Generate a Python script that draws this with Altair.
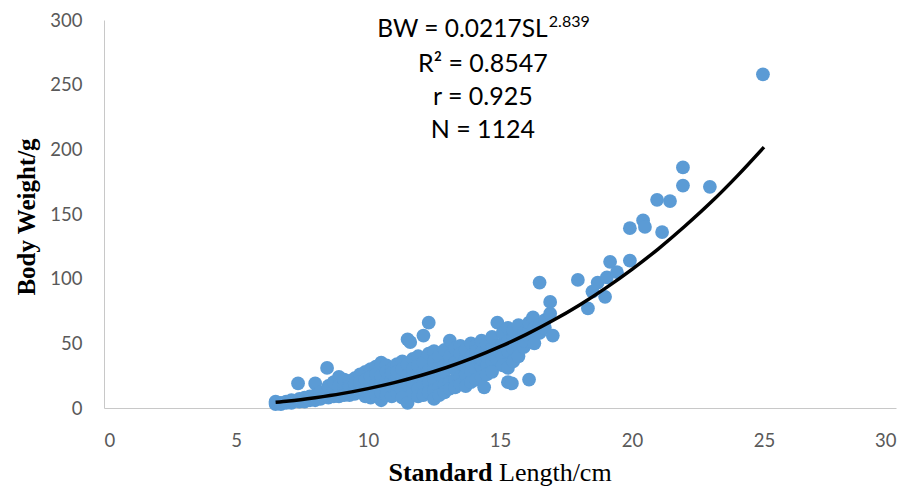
import altair as alt
import pandas as pd

# ---- scatter data ----
# dense cluster: one SL value with several BW readings
cluster_sl = [6.5, 6.7, 6.9, 7.1, 7.35, 7.4, 7.6, 7.8, 8.0, 8.2, 8.45, 8.5, 8.7, 8.9,
              9.1, 9.3, 9.5, 9.7, 9.9, 10.1, 10.3, 10.5, 10.7, 10.9, 11.1, 11.3, 11.5,
              11.6, 11.7, 11.9, 12.1, 12.3, 12.5, 12.7, 12.9, 13.1, 13.3, 13.5, 13.7,
              13.9, 14.1, 14.3, 14.4, 14.5, 14.7, 14.9, 15.1, 15.3, 15.45, 15.5, 15.7,
              15.9, 16.1, 16.25, 16.3, 16.5, 16.7, 16.9, 17.0]
cluster_bw = [[3, 4, 5], [4, 3], [4, 5], [5, 4, 6], [19], [5, 7], [6, 8, 5], [7, 9, 6],
              [19, 8, 10, 6], [9, 12, 7], [31], [10, 14, 8, 17], [11, 15, 9, 20],
              [12, 24, 9, 17], [13, 19, 10, 22], [14, 21, 10, 17], [15, 23, 11, 19],
              [16, 26, 12, 20], [17, 28, 9, 22, 13], [18, 30, 12, 24, 8],
              [19, 32, 14, 26, 10], [20, 35, 6, 25, 12], [21, 33, 15, 28, 10],
              [22, 30, 9, 27, 17], [23, 34, 12, 28, 18], [24, 36, 14, 30, 8],
              [53, 4, 25, 34, 19], [51], [26, 38, 12, 30, 20], [27, 40, 15, 33, 9],
              [28, 56, 18, 35, 10], [66, 29, 42, 20, 12], [30, 44, 22, 36, 14, 7],
              [32, 40, 16, 26, 10], [33, 45, 18, 28, 12], [34, 52, 20, 40, 15],
              [35, 46, 22, 30, 16], [37, 48, 24, 42, 18], [38, 45, 26, 32, 17],
              [40, 50, 28, 35, 20], [41, 48, 30, 44, 22], [43, 52, 32, 38, 24], [16],
              [45, 50, 34, 40, 26], [46, 55, 36, 42, 28], [48, 66, 38, 45],
              [50, 58, 40, 33], [52, 62, 44, 31, 20], [19], [54, 60, 46, 36],
              [56, 64, 48, 40], [58, 47, 52], [60, 22, 55, 66], [70], [62, 50],
              [97, 58, 64], [62, 68], [73, 82], [56]]

# larger fish, read individually
large_sl = [17.95, 18.33, 18.5, 18.7, 18.98, 19.05, 19.17, 19.43, 19.92, 19.92, 20.42,
            20.49, 20.95, 21.14, 21.44, 21.93, 21.93, 22.95, 24.96]
large_bw = [99, 77, 90, 97, 86, 101, 113, 105, 114, 139, 145, 140, 161, 136, 160, 186,
            172, 171, 258]

# fitted curve
curve_sl = [6.5, 7, 8, 9, 10, 11, 12, 13, 14, 15, 16, 17, 18, 19, 20, 21, 22, 23, 24, 25]
curve_bw = [4.4, 5.4, 8.0, 11.1, 15.0, 19.6, 25.1, 31.5, 38.9, 47.4, 56.9, 67.6, 79.5,
            92.7, 107.2, 123.1, 140.5, 159.2, 179.7, 201.7]

# axis ticks
x_ticks = [0, 5, 10, 15, 20, 25, 30]
y_ticks = [0, 50, 100, 150, 200, 250, 300]

# annotation lines
eq_main = "BW = 0.0217SL"
eq_sup = "2.839"
stat_lines = ["R² = 0.8547", "r = 0.925", "N = 1124"]
stat_y = [260, 234.3, 208.8]

rows = []
for s, bws in zip(cluster_sl, cluster_bw):
    for b in bws:
        rows.append({"SL": s, "BW": b})
for s, b in zip(large_sl, large_bw):
    rows.append({"SL": s, "BW": b})
pts = pd.DataFrame(rows)
curve = pd.DataFrame({"SL": curve_sl, "BW": curve_bw})

xscale = alt.Scale(domain=[0, 30], nice=False)
yscale = alt.Scale(domain=[0, 300], nice=False)
xaxis = alt.Axis(values=x_ticks, title=None, labelPadding=23)
yaxis = alt.Axis(values=y_ticks, title=None, labelPadding=22)

points = alt.Chart(pts).mark_circle(size=190, color="#5B9BD5", opacity=1).encode(
    x=alt.X("SL:Q", scale=xscale, axis=xaxis),
    y=alt.Y("BW:Q", scale=yscale, axis=yaxis),
)

line = alt.Chart(curve).mark_line(color="black", strokeWidth=3.5,
                                  interpolate="monotone").encode(
    x=alt.X("SL:Q", scale=xscale),
    y=alt.Y("BW:Q", scale=yscale),
)

txt_font = "Lato"
eq1 = alt.Chart(pd.DataFrame({"SL": [16.8], "BW": [287], "t": [eq_main]})).mark_text(
    font=txt_font, fontSize=24.5, align="right", baseline="alphabetic", color="black"
).encode(x=alt.X("SL:Q", scale=xscale), y=alt.Y("BW:Q", scale=yscale), text="t:N")

eq2 = alt.Chart(pd.DataFrame({"SL": [16.85], "BW": [294.5], "t": [eq_sup]})).mark_text(
    font=txt_font, fontSize=16, align="left", baseline="alphabetic", color="black"
).encode(x=alt.X("SL:Q", scale=xscale), y=alt.Y("BW:Q", scale=yscale), text="t:N")

stats = alt.Chart(pd.DataFrame({"SL": [14.35] * 3, "BW": stat_y, "t": stat_lines})).mark_text(
    font=txt_font, fontSize=25, align="center", baseline="alphabetic", color="black"
).encode(x=alt.X("SL:Q", scale=xscale), y=alt.Y("BW:Q", scale=yscale), text="t:N")

one = pd.DataFrame({"a": [0]})
xt1 = alt.Chart(one).mark_text(font="Liberation Serif", fontSize=26, fontWeight="bold",
                               align="right", baseline="alphabetic", color="black").encode(
    x=alt.value(388.5), y=alt.value(461), text=alt.value("Standard"))
xt2 = alt.Chart(one).mark_text(font="Liberation Serif", fontSize=26, fontWeight="normal",
                               align="left", baseline="alphabetic", color="black").encode(
    x=alt.value(395), y=alt.value(461), text=alt.value("Length/cm"))
yt = alt.Chart(one).mark_text(font="Liberation Serif", fontSize=25, fontWeight="bold",
                              align="center", baseline="middle", angle=270, color="black").encode(
    x=alt.value(-77), y=alt.value(197), text=alt.value("Body Weight/g"))

chart = alt.layer(points, line, eq1, eq2, stats, xt1, xt2, yt).properties(
    width=792, height=388,
    autosize=alt.AutoSizeParams(type="none"),
    padding={"left": 104, "top": 20, "right": 16, "bottom": 85},
).configure_view(stroke=None).configure_axis(
    grid=False, ticks=False, domainColor="#c8c8c8", domainWidth=1,
    labelColor="#595959", labelFont="Lato", labelFontSize=18.5,
)

chart.save("out.html", embed_options={"renderer": "svg", "actions": False})
